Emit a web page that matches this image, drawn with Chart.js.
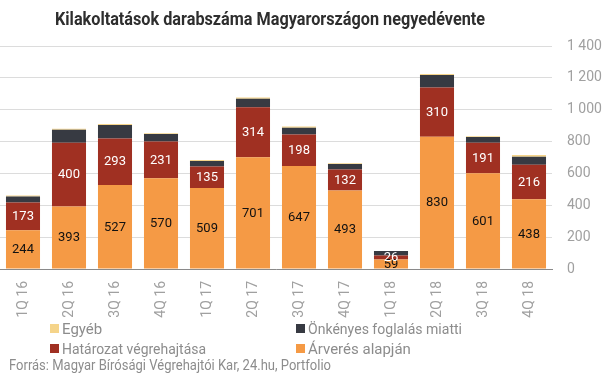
<!DOCTYPE html>
<html><head><meta charset="utf-8">
<script src="https://cdn.jsdelivr.net/npm/chart.js@4.4.1/dist/chart.umd.min.js"></script>
<style>html,body{margin:0;padding:0;background:#fff;overflow:hidden}</style>
</head><body>
<canvas id="c" width="605" height="378" style="width:605px;height:378px;display:block"></canvas>
<script>
const categories = ['1Q 16','2Q 16','3Q 16','4Q 16','1Q 17','2Q 17','3Q 17','4Q 17','1Q 18','2Q 18','3Q 18','4Q 18'];
const arveres   = [244, 393, 527, 570, 509, 701, 647, 493, 59, 830, 601, 438];
const hatarozat = [173, 400, 293, 231, 135, 314, 198, 132, 26, 310, 191, 216];
const onkenyes  = [38, 82, 84, 46, 34, 54, 42, 34, 28, 78, 36, 50];
const egyeb     = [6, 5, 6, 5, 6, 8, 8, 5, 0, 6, 5, 12];
const seriesNames = ['Árverés alapján','Határozat végrehajtása','Önkényes foglalás miatti','Egyéb'];
const titleText = 'Kilakoltatások darabszáma Magyarországon negyedévente';
const sourceText = 'Forrás: Magyar Bírósági Végrehajtói Kar, 24.hu, Portfolio';

const COLORS = ['#f59a45','#a03022','#373a42','#f5d48a'];
const FONT = 'Roboto, "Open Sans", sans-serif';

function fitText(ctx, text, x, y, targetW){
  const w = ctx.measureText(text).width;
  ctx.save();
  ctx.translate(x, y);
  ctx.scale(Math.min(1, targetW / w), 1);
  ctx.fillText(text, 0, 0);
  ctx.restore();
}

const decor = {
  id: 'decor',
  afterDatasetsDraw(chart){
    const ctx = chart.ctx;
    ctx.save();
    ctx.textAlign = 'center';
    ctx.textBaseline = 'middle';
    ctx.font = '13px ' + FONT;
    [0,1].forEach(di => {
      const meta = chart.getDatasetMeta(di);
      ctx.fillStyle = di === 0 ? '#111111' : '#ffffff';
      meta.data.forEach((el, i) => {
        const v = chart.data.datasets[di].data[i];
        ctx.fillText(String(v), el.x, (el.y + el.base) / 2 + 0.5);
      });
    });
    ctx.restore();
  },
  afterDraw(chart){
    const ctx = chart.ctx;
    ctx.save();
    // title
    ctx.fillStyle = '#2e2e2e';
    ctx.font = 'bold 18px ' + FONT;
    ctx.textAlign = 'left';
    ctx.textBaseline = 'alphabetic';
    fitText(ctx, titleText, 55, 25, 430);
    // legend
    const order = [3,2,1,0];
    const cols = [50, 296];
    const rows = [324, 344];
    ctx.font = '15px ' + FONT;
    order.forEach((di, k) => {
      const cx = cols[k % 2], ry = rows[Math.floor(k / 2)];
      ctx.fillStyle = chart.data.datasets[di].backgroundColor;
      ctx.fillRect(cx, ry, 9, 9);
      ctx.fillStyle = '#8c8c8c';
      const tw = {3: 46, 2: 154, 1: 144, 0: 107}[di];
      fitText(ctx, chart.data.datasets[di].label, cx + 12, ry + 10, tw);
    });
    // source
    ctx.font = '14px ' + FONT;
    ctx.fillStyle = '#8c8c8c';
    fitText(ctx, sourceText, 9, 370, 322);
    ctx.restore();
  }
};

new Chart(document.getElementById('c'), {
  type: 'bar',
  data: {
    labels: categories,
    datasets: [
      {label: seriesNames[0], data: arveres,   backgroundColor: COLORS[0]},
      {label: seriesNames[1], data: hatarozat, backgroundColor: COLORS[1]},
      {label: seriesNames[2], data: onkenyes,  backgroundColor: COLORS[2]},
      {label: seriesNames[3], data: egyeb,     backgroundColor: COLORS[3]}
    ]
  },
  options: {
    responsive: false,
    animation: false,
    devicePixelRatio: 1,
    layout: {padding: {top: 46, bottom: 60, left: 0, right: 0}},
    datasets: {bar: {barPercentage: 0.74, categoryPercentage: 1, borderWidth: 0}},
    plugins: {legend: {display: false}, title: {display: false}, tooltip: {enabled: false}},
    scales: {
      x: {
        stacked: true,
        grid: {display: false, drawTicks: false},
        border: {display: true, color: '#8a8a8a', width: 1},
        ticks: {color: '#a0a0a0', font: {family: FONT, size: 14}, minRotation: 90, maxRotation: 90, autoSkip: false, padding: 12},
        afterFit(s){ s.height = 49; }
      },
      y: {
        stacked: true,
        position: 'right',
        min: 0, max: 1400,
        grid: {color: '#dcdcdc', drawTicks: false},
        border: {display: false},
        ticks: {stepSize: 200, color: '#a0a0a0', font: {family: FONT, size: 14}, padding: 15,
          callback: v => String(v).replace(/\B(?=(\d{3})+(?!\d))/g, ' ')},
        afterFit(s){ s.width = 53; }
      }
    }
  },
  plugins: [decor]
});
</script>
</body></html>
